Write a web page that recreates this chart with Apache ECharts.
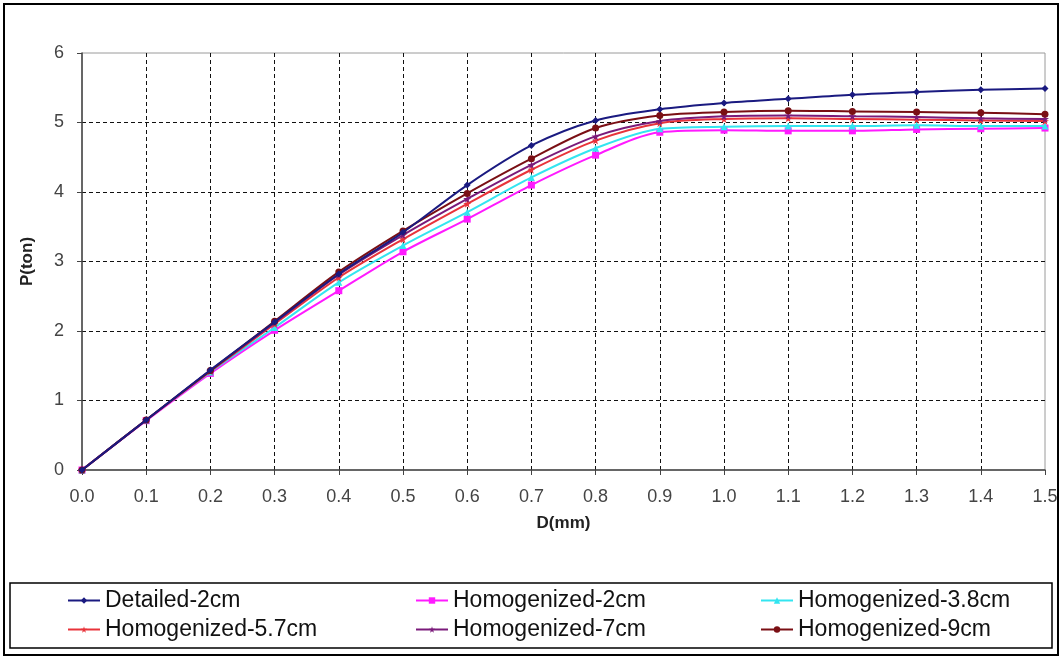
<!DOCTYPE html>
<html>
<head>
<meta charset="utf-8">
<script src="https://cdn.jsdelivr.net/npm/echarts@6/dist/echarts.min.js"></script>
<style>
html,body{margin:0;padding:0;background:#fff;}
#chart{width:1063px;height:661px;}
</style>
</head>
<body>
<div id="chart"></div>
<script>
const dValues = [0, 0.1, 0.2, 0.3, 0.4, 0.5, 0.6, 0.7, 0.8, 0.9, 1.0, 1.1, 1.2, 1.3, 1.4, 1.5];
const seriesNames = ['Detailed-2cm', 'Homogenized-2cm', 'Homogenized-3.8cm', 'Homogenized-5.7cm', 'Homogenized-7cm', 'Homogenized-9cm'];
const detailed2 = [0, 0.72, 1.44, 2.13, 2.82, 3.42, 4.10, 4.67, 5.03, 5.19, 5.28, 5.34, 5.40, 5.44, 5.47, 5.49];
const homog2 = [0, 0.71, 1.39, 2.01, 2.58, 3.14, 3.61, 4.10, 4.53, 4.86, 4.89, 4.88, 4.88, 4.90, 4.91, 4.92];
const homog38 = [0, 0.72, 1.41, 2.05, 2.70, 3.23, 3.71, 4.21, 4.63, 4.91, 4.94, 4.95, 4.95, 4.96, 4.95, 4.95];
const homog57 = [0, 0.72, 1.42, 2.10, 2.77, 3.32, 3.83, 4.32, 4.74, 4.99, 5.05, 5.06, 5.05, 5.04, 5.03, 5.02];
const homog7 = [0, 0.72, 1.43, 2.12, 2.81, 3.38, 3.90, 4.39, 4.80, 5.02, 5.09, 5.10, 5.09, 5.08, 5.06, 5.05];
const homog9 = [0, 0.72, 1.43, 2.14, 2.85, 3.44, 3.98, 4.48, 4.92, 5.10, 5.15, 5.17, 5.16, 5.15, 5.14, 5.12];

const allValues = [detailed2, homog2, homog38, homog57, homog7, homog9];
const colors = ['#1a1a80', '#ff1aff', '#33e5f0', '#e8333a', '#7a1a7a', '#7a0f14'];
const star = 'path://M50,0 L61,35 L98,35 L68,57 L79,91 L50,70 L21,91 L32,57 L2,35 L39,35 Z';
const symbols = ['diamond', 'rect', 'triangle', star, star, 'circle'];
const sizes = [7, 7, 7, 8, 8, 7];

const chart = echarts.init(document.getElementById('chart'));
const font = 'Liberation Sans, Arial, sans-serif';

const series = seriesNames.map((name, i) => ({
  name: name,
  type: 'line',
  smooth: 0.3,
  data: dValues.map((d, j) => [d, allValues[i][j]]),
  symbol: symbols[i],
  symbolSize: sizes[i],
  showAllSymbol: true,
  lineStyle: { color: colors[i], width: 2 },
  itemStyle: { color: colors[i] },
  z: 3 + (i === 0 ? 6 : i)
}));

function legendCol(left, names) {
  return {
    orient: 'vertical',
    left: left,
    top: 589,
    padding: 0,
    itemGap: 6,
    itemWidth: 32,
    itemHeight: 8,
    data: names,
    textStyle: { fontSize: 23, color: '#111', fontFamily: font },
    selectedMode: false
  };
}

chart.setOption({
  animation: false,
  backgroundColor: '#fff',
  grid: {
    left: 82, right: 18, top: 53, bottom: 191,
    show: true, borderColor: '#9a9a9a', borderWidth: 1
  },
  xAxis: {
    type: 'value',
    min: 0, max: 1.5, interval: 0.1,
    name: 'D(mm)',
    nameLocation: 'middle',
    nameGap: 45,
    nameTextStyle: { fontSize: 17, fontWeight: 'bold', color: '#222', fontFamily: font },
    axisLine: { show: true, lineStyle: { color: '#444', width: 1.5 } },
    axisTick: { show: true, length: 5, lineStyle: { color: '#444' } },
    axisLabel: { fontSize: 18, color: '#444', margin: 18, fontFamily: font, formatter: v => v.toFixed(1) },
    splitLine: { show: true, showMinLine: false, showMaxLine: false, lineStyle: { color: '#111', type: [4, 3], width: 1 } }
  },
  yAxis: {
    type: 'value',
    min: 0, max: 6, interval: 1,
    name: 'P(ton)',
    nameLocation: 'middle',
    nameGap: 46,
    nameTextStyle: { fontSize: 17, fontWeight: 'bold', color: '#222', fontFamily: font },
    axisLine: { show: true, lineStyle: { color: '#444', width: 1.5 } },
    axisTick: { show: true, length: 5, lineStyle: { color: '#444' } },
    axisLabel: { fontSize: 18, color: '#444', margin: 18, fontFamily: font },
    splitLine: { show: true, showMinLine: false, showMaxLine: false, lineStyle: { color: '#111', type: [4, 3], width: 1 } }
  },
  legend: [
    legendCol(67, [seriesNames[0], seriesNames[3]]),
    legendCol(415, [seriesNames[1], seriesNames[4]]),
    legendCol(760, [seriesNames[2], seriesNames[5]])
  ],
  graphic: [
    { type: 'rect', shape: { x: 4, y: 4, width: 1054, height: 651 }, style: { fill: 'none', stroke: '#000', lineWidth: 2 }, silent: true, z: 100 },
    { type: 'rect', shape: { x: 10, y: 583, width: 1042, height: 65 }, style: { fill: 'none', stroke: '#000', lineWidth: 1.5 }, silent: true, z: 100 }
  ],
  series: series
});
</script>
</body>
</html>
